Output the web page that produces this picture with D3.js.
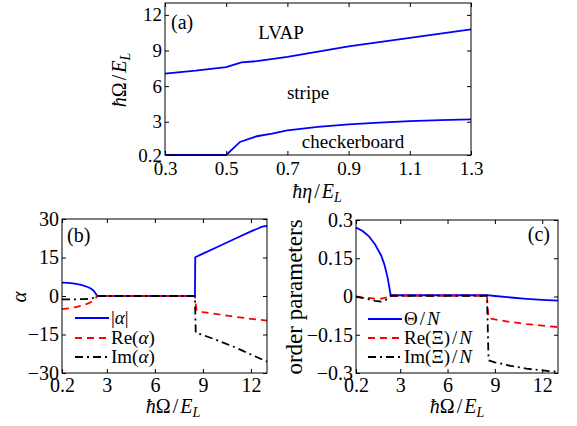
<!DOCTYPE html>
<html lang="en">
<head>
<meta charset="UTF-8">
<title>Phase diagram and order parameters</title>
<script src="https://d3js.org/d3.v7.min.js"></script>
<style>
  body { margin: 0; background: #fff; }
  svg text { font-family: "Liberation Serif", "Times New Roman", serif; fill: #000; }
</style>
</head>
<body>
<div id="chart"></div>
<script>
// panel (a): phase boundaries vs eta
var etaTicks = [0.3, 0.5, 0.7, 0.9, 1.1, 1.3];
var omegaTicksA = [0.2, 3, 6, 9, 12];
var upperEta = [0.3, 0.4, 0.5, 0.55, 0.6, 0.7, 0.8, 0.9, 1.0, 1.1, 1.2, 1.3];
var upperOmega = [7.06, 7.3, 7.6, 8.0, 8.1, 8.47, 8.9, 9.34, 9.7, 10.06, 10.42, 10.78];
var lowerEta = [0.3, 0.4, 0.5, 0.545, 0.6, 0.65, 0.7, 0.8, 0.9, 1.0, 1.1, 1.2, 1.3];
var lowerOmega = [0.2, 0.2, 0.2, 1.3, 1.78, 2.0, 2.28, 2.56, 2.78, 2.93, 3.06, 3.14, 3.2];

// panel (b): alpha vs Omega
var omegaTicks = [0.2, 3, 6, 9, 12];
var alphaTicks = [-30, -15, 0, 15, 30];
var absX = [0.2, 0.6, 1.0, 1.4, 1.8, 2.0, 2.2, 2.3, 2.4, 8.5, 8.52, 9, 10, 11, 12, 12.4, 12.7, 13];
var absY = [5.2, 5.1, 4.8, 4.3, 3.5, 2.9, 1.9, 1.0, 0, 0, 15.1, 16.5, 19.4, 22.3, 25.2, 26.2, 27.0, 27.3];
var reX = [0.2, 0.6, 1.0, 1.4, 1.8, 2.0, 2.2, 2.3, 2.4, 8.5, 8.55, 8.6, 9, 10, 11, 12, 13];
var reY = [-5.1, -4.8, -4.4, -3.8, -3.0, -2.4, -1.5, -0.8, 0, 0, -3, -5.5, -6.3, -7.2, -8.1, -8.9, -9.6];
var imX = [0.2, 1.0, 1.6, 2.0, 2.3, 2.4, 8.5, 8.55, 9, 10, 11, 12, 13];
var imY = [-1.3, -1.3, -1.2, -1.0, -0.5, 0, 0, -14.3, -15.2, -17.5, -20, -22.8, -25.6];

// panel (c): order parameters vs Omega
var orderTicks = [-0.3, -0.15, 0, 0.15, 0.3];
var thetaX = [0.2, 0.6, 1.0, 1.4, 1.8, 2.0, 2.2, 2.3, 2.4, 8.5, 9, 10, 11, 12, 13];
var thetaY = [0.27, 0.258, 0.237, 0.205, 0.16, 0.125, 0.075, 0.04, 0.005, 0.005, 0.002, -0.004, -0.009, -0.013, -0.016];
var reXiX = [0.2, 0.8, 1.4, 1.8, 2.1, 2.4, 8.5, 8.55, 8.6, 9, 10, 11, 12, 13];
var reXiY = [-0.002, -0.005, -0.008, -0.008, -0.004, 0.003, 0.003, -0.05, -0.085, -0.09, -0.1, -0.108, -0.114, -0.12];
var imXiX = [0.2, 0.8, 1.4, 1.8, 2.1, 2.4, 8.5, 8.6, 9, 10, 11, 12, 13];
var imXiY = [0, -0.008, -0.017, -0.02, -0.013, 0.003, 0.003, -0.25, -0.258, -0.272, -0.283, -0.29, -0.295];

var width = 577, height = 426;
var svg = d3.select('#chart').append('svg')
  .attr('width', width).attr('height', height);

var fmtMinus = function(d) { return (d < 0 ? '\u2212' : '') + Math.abs(d); };

function panel(box, xDom, yDom, xt, yt, fs, px) {
  var x = d3.scaleLinear().domain(xDom).range([box.l, box.r]);
  var y = d3.scaleLinear().domain(yDom).range([box.b, box.t]);
  var g = svg.append('g');
  var axes = [
    [d3.axisBottom(x).tickValues(xt).tickFormat(fmtMinus), box.b, 'x'],
    [d3.axisTop(x).tickValues(xt).tickFormat(''), box.t, 'x'],
    [d3.axisLeft(y).tickValues(yt).tickFormat(fmtMinus), box.l, 'y'],
    [d3.axisRight(y).tickValues(yt).tickFormat(''), box.r, 'y']
  ];
  axes.forEach(function(a) {
    var ag = g.append('g')
      .attr('transform', a[2] === 'x' ? 'translate(0,' + a[1] + ')' : 'translate(' + a[1] + ',0)')
      .call(a[0].tickSize(-4).tickPadding(a[2] === 'x' ? px : 3));
    ag.attr('font-family', null).attr('font-size', fs);
    ag.select('.domain').remove();
    ag.selectAll('line').attr('stroke', '#000');
  });
  return {x: x, y: y, g: g, box: box};
}

function drawLine(p, xs, ys, color, dash) {
  var pts = xs.map(function(v, i) { return [v, ys[i]]; });
  var line = d3.line().x(function(d) { return p.x(d[0]); }).y(function(d) { return p.y(d[1]); });
  p.g.append('path').datum(pts)
    .attr('d', line).attr('fill', 'none')
    .attr('stroke', color).attr('stroke-width', 1.8)
    .attr('stroke-dasharray', dash || null);
}

function frame(p) {
  var b = p.box;
  p.g.append('rect').attr('x', b.l).attr('y', b.t)
    .attr('width', b.r - b.l).attr('height', b.b - b.t)
    .attr('fill', 'none').attr('stroke', '#000').attr('stroke-width', 1);
}

// label helper: ħ X / E_L
function omegaLabel(sel, sym, symItalic) {
  sel.style('font-size', '20px');
  sel.append('tspan').attr('font-style', 'italic').text('\u0127');
  sel.append('tspan').attr('font-style', symItalic ? 'italic' : 'normal').text(sym);
  sel.append('tspan').attr('dx', 2).text('/');
  sel.append('tspan').attr('dx', 2).attr('font-style', 'italic').text('E');
  sel.append('tspan').attr('font-style', 'italic').attr('font-size', '14px').attr('dy', 4).text('L');
}

var dashRed = '7,5';
var dashBlack = '8,4,2,4';

// ---- panel (a)
var pa = panel({l: 165, r: 471, t: 3, b: 155}, [0.3, 1.3], [0.2, 13], etaTicks, omegaTicksA, 19, 7);
drawLine(pa, upperEta, upperOmega, '#0000ff');
drawLine(pa, lowerEta, lowerOmega, '#0000ff');
frame(pa);
pa.g.append('text').attr('x', 171).attr('y', 29).style('font-size', '20px').text('(a)');
pa.g.append('text').attr('x', 281).attr('y', 39).attr('text-anchor', 'middle').style('font-size', '19px').text('LVAP');
pa.g.append('text').attr('x', 308).attr('y', 99).attr('text-anchor', 'middle').style('font-size', '19px').text('stripe');
pa.g.append('text').attr('x', 353).attr('y', 148).attr('text-anchor', 'middle').style('font-size', '19px').text('checkerboard');
omegaLabel(svg.append('text').attr('x', 317).attr('y', 198).attr('text-anchor', 'middle'), '\u03b7', true);
omegaLabel(svg.append('text').attr('transform', 'translate(126,80) rotate(-90)').attr('text-anchor', 'middle'), '\u03a9', false);

// ---- panel (b)
var pb = panel({l: 62, r: 267, t: 219, b: 373}, [0.2, 13], [-30, 30], omegaTicks, alphaTicks, 20, 5);
drawLine(pb, absX, absY, '#0000ff');
drawLine(pb, reX, reY, '#ff0000', dashRed);
drawLine(pb, imX, imY, '#000', dashBlack);
frame(pb);
pb.g.append('text').attr('x', 67).attr('y', 242).style('font-size', '20px').text('(b)');
svg.append('text').attr('transform', 'translate(26,297) rotate(-90)').attr('text-anchor', 'middle')
  .style('font-size', '21px').style('font-style', 'italic').text('\u03b1');
omegaLabel(svg.append('text').attr('x', 173).attr('y', 413).attr('text-anchor', 'middle'), '\u03a9', false);

// legend (b)
var legB = [
  {color: '#0000ff', dash: null, parts: [['|', 'normal'], ['\u03b1', 'italic'], ['|', 'normal']]},
  {color: '#ff0000', dash: dashRed, parts: [['Re(', 'normal'], ['\u03b1', 'italic'], [')', 'normal']]},
  {color: '#000', dash: dashBlack, parts: [['Im(', 'normal'], ['\u03b1', 'italic'], [')', 'normal']]}
];
function legend(items, x0, x1, tx, ys, fs) {
  items.forEach(function(it, i) {
    svg.append('line').attr('x1', x0).attr('x2', x1).attr('y1', ys[i]).attr('y2', ys[i])
      .attr('stroke', it.color).attr('stroke-width', 1.8).attr('stroke-dasharray', it.dash);
    var t = svg.append('text').attr('x', tx).attr('y', ys[i] + 6).style('font-size', fs + 'px');
    it.parts.forEach(function(p) { t.append('tspan').attr('font-style', p[1]).attr('dx', p[2] || null).text(p[0]); });
  });
}
legend(legB, 75, 109, 111, [318, 338, 357], 19);

// ---- panel (c)
var pc = panel({l: 356, r: 558, t: 220, b: 373}, [0.2, 13], [-0.3, 0.3], omegaTicks, orderTicks, 20, 5);
drawLine(pc, thetaX, thetaY, '#0000ff');
drawLine(pc, reXiX, reXiY, '#ff0000', dashRed);
drawLine(pc, imXiX, imXiY, '#000', dashBlack);
frame(pc);
pc.g.append('text').attr('x', 550).attr('y', 241).attr('text-anchor', 'end').style('font-size', '20px').text('(c)');
svg.append('text').attr('transform', 'translate(302,297) rotate(-90)').attr('text-anchor', 'middle')
  .style('font-size', '23px').text('order parameters');
omegaLabel(svg.append('text').attr('x', 457).attr('y', 413).attr('text-anchor', 'middle'), '\u03a9', false);

var legC = [
  {color: '#0000ff', dash: null, parts: [['\u0398', 'normal'], ['/', 'normal', 2], ['N', 'italic', 2]]},
  {color: '#ff0000', dash: dashRed, parts: [['Re(\u039e)', 'normal'], ['/', 'normal', 2], ['N', 'italic', 2]]},
  {color: '#000', dash: dashBlack, parts: [['Im(\u039e)', 'normal'], ['/', 'normal', 2], ['N', 'italic', 2]]}
];
legend(legC, 368, 402, 404, [319, 338, 357], 19);
</script>
</body>
</html>
